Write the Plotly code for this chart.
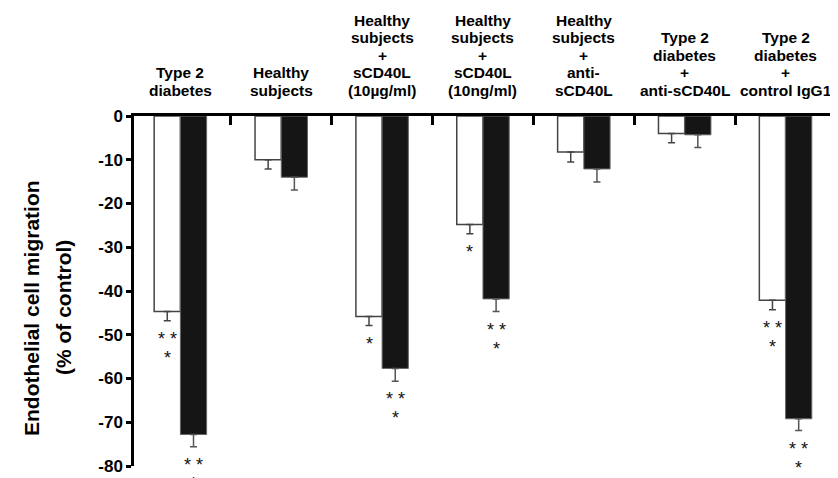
import plotly.graph_objects as go

# ---- data ----
categories = [
    "Type 2<br>diabetes",
    "Healthy<br>subjects",
    "Healthy<br>subjects<br>+<br>sCD40L<br>(10µg/ml)",
    "Healthy<br>subjects<br>+<br>sCD40L<br>(10ng/ml)",
    "Healthy<br>subjects<br>+<br>anti-<br>sCD40L",
    "Type 2<br>diabetes<br>+<br>anti-sCD40L",
    "Type 2<br>diabetes<br>+<br>control IgG1",
]
white_vals = [-44.7, -10.0, -45.8, -24.8, -8.2, -4.0, -42.1]
white_err = [2.1, 2.1, 2.1, 2.1, 2.3, 2.1, 2.2]
black_vals = [-72.8, -14.0, -57.7, -41.8, -12.1, -4.3, -69.2]
black_err = [2.8, 2.9, 2.9, 2.9, 3.0, 2.9, 2.7]
white_sig = ["* *<br>*", "", "*", "*", "", "", "* *<br>*"]
black_sig = ["* *<br>*", "", "* *<br>*", "* *<br>*", "", "", "* *<br>*"]
y_ticks = [0, -10, -20, -30, -40, -50, -60, -70, -80]
y_title_lines = ["Endothelial cell migration", "(% of control)"]

FONT = "Liberation Sans, Arial, sans-serif"
BARGAP = 0.48
xs = list(range(len(categories)))
bar_w = (1 - BARGAP) / 2

fig = go.Figure()
fig.add_trace(go.Bar(
    x=xs, y=white_vals, name="white",
    marker=dict(color="white", line=dict(color="#444444", width=1.5)),
    error_y=dict(type="data", symmetric=False, array=[0] * len(xs), arrayminus=white_err,
                 color="#444444", thickness=1.5, width=3.5),
))
fig.add_trace(go.Bar(
    x=xs, y=black_vals, name="black",
    marker=dict(color="#151515", line=dict(color="#666666", width=1)),
    error_y=dict(type="data", symmetric=False, array=[0] * len(xs), arrayminus=black_err,
                 color="#555555", thickness=1.5, width=3.5),
))

annotations = []
# significance asterisks
for vals, errs, sigs, sign in [(white_vals, white_err, white_sig, -1), (black_vals, black_err, black_sig, 1)]:
    for i, (v, e, s) in enumerate(zip(vals, errs, sigs)):
        if not s:
            continue
        for k, line in enumerate(s.split("<br>")):
            annotations.append(dict(
                x=i + sign * bar_w / 2, y=v - e, xref="x", yref="y",
                text=line, showarrow=False, xanchor="center", yanchor="middle",
                yshift=-(18 + 19 * k), borderpad=0,
                font=dict(family=FONT, size=18, color="#111111"),
            ))

# category labels above the top axis
LINE_H = 17.5
for i, cat in enumerate(categories):
    lines = cat.split("<br>")
    n = len(lines)
    for k, line in enumerate(lines):
        annotations.append(dict(
            x=i, y=1, xref="x", yref="paper", text=line, showarrow=False,
            xanchor="center", yanchor="middle", borderpad=0,
            yshift=26 + LINE_H * (n - 1 - k),
            font=dict(family=FONT, size=15.5, color="black", weight="bold"),
        ))

# y-axis title (two lines)
for k, line in enumerate(y_title_lines):
    annotations.append(dict(
        x=0, y=0.5, xref="paper", yref="paper", text=line, showarrow=False,
        textangle=-90, xanchor="center", yanchor="middle", borderpad=0,
        xshift=-103 + 32 * k, yshift=-17,
        font=dict(family=FONT, size=21, color="black", weight="bold"),
    ))

fig.update_layout(
    width=838, height=478,
    margin=dict(l=126, r=10, t=108, b=16),
    paper_bgcolor="white", plot_bgcolor="white",
    barmode="group", bargap=BARGAP, bargroupgap=0,
    showlegend=False,
    annotations=annotations,
    xaxis=dict(
        side="top", range=[-0.46, len(xs) - 0.5],
        showline=True, linecolor="black", linewidth=2.5,
        ticks="inside", ticklen=9, tickwidth=2.5, tickcolor="black",
        tickvals=[i + 0.5 for i in xs], showticklabels=False,
        showgrid=False, zeroline=False,
    ),
    yaxis=dict(
        range=[-80, 0], tickvals=y_ticks, ticktext=[str(t) for t in y_ticks],
        showline=True, linecolor="black", linewidth=2.5,
        ticks="outside", ticklen=5, tickwidth=2.5, tickcolor="black",
        tickfont=dict(family=FONT, size=17, color="black", weight="bold"),
        showgrid=False, zeroline=False,
    ),
)

fig.write_html("out.html")
